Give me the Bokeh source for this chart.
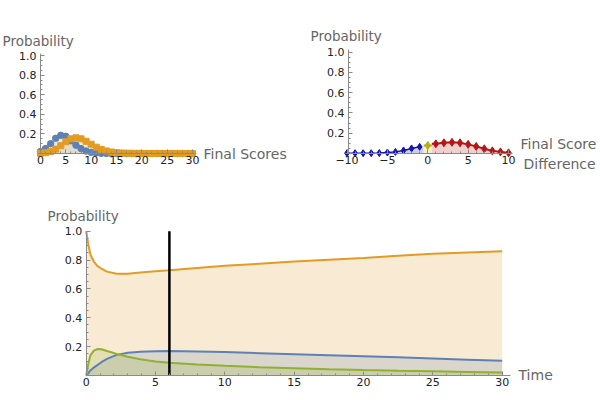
from bokeh.plotting import figure
from bokeh.models import Range1d, FixedTicker, Label
from bokeh.layouts import column, row
from bokeh.embed import file_html
from bokeh.resources import INLINE

# ---------------- data ----------------
# Top-left: final score distributions
scores = list(range(0, 31))
score_prob_blue = [0.02, 0.05, 0.10, 0.155, 0.185, 0.175, 0.13, 0.085, 0.05, 0.025,
                   0.012, 0.005, 0.002, 0.001, 0.0, 0.0, 0.0, 0.0, 0.0, 0.0,
                   0.0, 0.0, 0.0, 0.0, 0.0, 0.0, 0.0, 0.0, 0.0, 0.0, 0.0]
score_prob_orange = [0.002, 0.008, 0.02, 0.045, 0.08, 0.12, 0.15, 0.16, 0.15, 0.125,
                     0.095, 0.065, 0.042, 0.026, 0.015, 0.008, 0.005, 0.003, 0.002, 0.001,
                     0.001, 0.0, 0.0, 0.0, 0.0, 0.0, 0.0, 0.0, 0.0, 0.0, 0.0]

# Top-right: final score difference distribution
diff_neg = [-10, -9, -8, -7, -6, -5, -4, -3, -2, -1]
prob_neg = [0.003, 0.003, 0.003, 0.003, 0.004, 0.01, 0.016, 0.03, 0.05, 0.066]
diff_zero = [0]
prob_zero = [0.079]
diff_pos = [1, 2, 3, 4, 5, 6, 7, 8, 9, 10]
prob_pos = [0.095, 0.105, 0.11, 0.105, 0.09, 0.07, 0.046, 0.026, 0.016, 0.007]

# Bottom: probabilities over time
time = [0, 0.15, 0.3, 0.55, 0.8, 1.1, 1.5, 2.2, 3, 3.9, 5, 6, 8, 10, 12.5, 15,
        17.5, 20, 22.5, 25, 27.5, 30]
prob_orange = [1.0, 0.91, 0.84, 0.79, 0.76, 0.74, 0.72, 0.705, 0.705, 0.713, 0.722,
               0.729, 0.745, 0.76, 0.775, 0.79, 0.803, 0.815, 0.83, 0.843, 0.852, 0.861]
prob_blue = [0.0, 0.015, 0.035, 0.055, 0.072, 0.092, 0.115, 0.143, 0.157, 0.164, 0.168,
             0.169, 0.166, 0.162, 0.155, 0.148, 0.141, 0.134, 0.126, 0.118, 0.11, 0.102]
prob_green = [0.0, 0.08, 0.14, 0.172, 0.183, 0.182, 0.17, 0.15, 0.13, 0.112, 0.097,
              0.088, 0.076, 0.067, 0.058, 0.051, 0.044, 0.038, 0.033, 0.029, 0.025, 0.021]
current_time = 6

prob_ticks = [0.2, 0.4, 0.6, 0.8, 1.0]
prob_minor = [round(0.05 * i, 2) for i in range(1, 21)]

BLUE = "#5E81B5"
ORANGE = "#E19C24"
GREEN = "#8FB032"
FONT = "DejaVu Sans"
LABEL_COLOR = "#666666"
AXIS_COLOR = "#8a8a8a"
TICK_LABEL_COLOR = "#222222"


class Mapper:
    """Pixel <-> data mapping for a figure whose frame fills its whole canvas."""

    def __init__(self, w, h, xa, ya):
        # xa = (px1, v1, px2, v2), ya = (py1, v1, py2, v2)
        self.w, self.h = w, h
        self.sx = (xa[3] - xa[1]) / (xa[2] - xa[0])
        self.x0 = xa[1] - xa[0] * self.sx
        self.sy = (ya[3] - ya[1]) / (ya[2] - ya[0])
        self.y0 = ya[1] - ya[0] * self.sy

    def x(self, px):
        return self.x0 + px * self.sx

    def y(self, py):
        return self.y0 + py * self.sy

    def ranges(self):
        return (self.x(0), self.x(self.w)), (self.y(self.h), self.y(0))


def make_fig(m, x_axis_at, y_axis_at, x_bounds, y_bounds):
    xr, yr = m.ranges()
    p = figure(width=m.w, height=m.h, x_range=Range1d(*xr), y_range=Range1d(*yr),
               output_backend="svg", toolbar_location=None,
               min_border_left=0, min_border_right=0, min_border_top=0,
               min_border_bottom=0)
    p.title.visible = False
    p.grid.visible = False
    p.outline_line_color = None
    p.background_fill_color = "white"
    p.border_fill_color = "white"
    p.xaxis.fixed_location = x_axis_at
    p.yaxis.fixed_location = y_axis_at
    p.xaxis.bounds = x_bounds
    p.yaxis.bounds = y_bounds
    for ax in (p.xaxis[0], p.yaxis[0]):
        ax.axis_line_color = AXIS_COLOR
        ax.major_tick_line_color = AXIS_COLOR
        ax.minor_tick_line_color = AXIS_COLOR
        ax.major_tick_in = 4
        ax.major_tick_out = 0
        ax.minor_tick_in = 2
        ax.minor_tick_out = 0
        ax.major_label_text_font = FONT
        ax.major_label_text_font_size = "11px"
        ax.major_label_text_color = TICK_LABEL_COLOR
    p.xaxis.major_label_standoff = 2
    p.yaxis.major_label_standoff = 4
    p.yaxis.ticker = FixedTicker(ticks=prob_ticks, minor_ticks=prob_minor)
    p.yaxis.major_label_overrides = {1: "1.0"}
    return p


def add_label(p, m, px, py, text, size="13.5px"):
    p.add_layout(Label(x=m.x(px), y=m.y(py), text=text, text_font=FONT,
                       text_font_size=size, text_color=LABEL_COLOR,
                       text_baseline="middle", text_align="left"))


# ---------------- top-left ----------------
m1 = Mapper(300, 188, (40, 0, 192, 30), (153, 0, 55, 1))
p1 = make_fig(m1, 0, 0, (-0.6, 30.6), (0, 1.02))
p1.xaxis.ticker = FixedTicker(ticks=[0, 5, 10, 15, 20, 25, 30], minor_ticks=scores)
zeros1 = [0] * len(scores)
p1.varea(x=scores, y1=zeros1, y2=score_prob_orange, fill_color=ORANGE, fill_alpha=0.2)
p1.varea(x=scores, y1=zeros1, y2=score_prob_blue, fill_color=BLUE, fill_alpha=0.15)
p1.scatter(scores, score_prob_blue, marker="circle", size=6.5, fill_color=BLUE,
           line_color=BLUE)
p1.scatter(scores, score_prob_orange, marker="square", size=6, fill_color=ORANGE,
           line_color=ORANGE)
add_label(p1, m1, 2, 40, "Probability")
add_label(p1, m1, 203, 153, "Final Scores", "14px")

# ---------------- top-right ----------------
m2 = Mapper(300, 188, (46.5, -10, 208, 10), (153, 0, 51.5, 1))
p2 = make_fig(m2, 0, -9.8, (-10.2, 10.5), (0, 1.02))
p2.xaxis.ticker = FixedTicker(ticks=[-10, -5, 0, 5, 10], minor_ticks=list(range(-10, 11)))
p2.xaxis.major_label_overrides = {-10: "\u221210", -5: "\u22125"}

DBLUE = "#1616A6"
DRED = "#B41616"
DYEL = "#B8AE14"
# filled regions (blue up to -0.5, yellow -0.5..0.5, red from 0.5)
neg_x = diff_neg + [diff_zero[0] - 0.5]
neg_y = prob_neg + [prob_neg[-1]]
p2.varea(x=neg_x, y1=[0] * len(neg_x), y2=neg_y, fill_color="#CBCFEC", fill_alpha=1)
zero_x = [diff_zero[0] - 0.5, diff_zero[0] + 0.5]
zero_y = [prob_zero[0], prob_zero[0]]
p2.varea(x=zero_x, y1=[0, 0], y2=zero_y, fill_color="#F3EFCF", fill_alpha=1)
pos_x = [diff_zero[0] + 0.5] + diff_pos
pos_y = [prob_pos[0]] + prob_pos
p2.varea(x=pos_x, y1=[0] * len(pos_x), y2=pos_y, fill_color="#F0CFCF", fill_alpha=1)
p2.line(diff_neg, prob_neg, line_color=DBLUE, line_width=1.5)
p2.line(pos_x, pos_y, line_color=DRED, line_width=2)
p2.line(zero_x, zero_y, line_color=DYEL, line_width=2)
p2.scatter(diff_neg, prob_neg, marker="diamond", size=7, fill_color=DBLUE, line_color=DBLUE)
p2.scatter(diff_zero, prob_zero, marker="diamond", size=8, fill_color=DYEL, line_color=DYEL)
p2.scatter(diff_pos, prob_pos, marker="diamond", size=8, fill_color=DRED, line_color=DRED)
add_label(p2, m2, 10, 35, "Probability")
add_label(p2, m2, 220, 143, "Final Score", "14px")
add_label(p2, m2, 223, 163, "Difference", "14px")

# ---------------- bottom ----------------
m3 = Mapper(600, 204, (85.7, 0, 501.7, 30), (187, 0, 42.7, 1))
p3 = make_fig(m3, 0, 0, (0, 30.6), (0, 1))
p3.xaxis.ticker = FixedTicker(ticks=[0, 5, 10, 15, 20, 25, 30], minor_ticks=list(range(0, 31)))
zeros3 = [0] * len(time)
p3.varea(x=time, y1=zeros3, y2=prob_orange, fill_color=ORANGE, fill_alpha=0.2)
p3.varea(x=time, y1=zeros3, y2=prob_blue, fill_color=BLUE, fill_alpha=0.2)
p3.varea(x=time, y1=zeros3, y2=prob_green, fill_color=GREEN, fill_alpha=0.2)
p3.line(time, prob_orange, line_color=ORANGE, line_width=2)
p3.line(time, prob_blue, line_color=BLUE, line_width=2)
p3.line(time, prob_green, line_color=GREEN, line_width=2)
p3.segment(x0=[current_time], y0=[0], x1=[current_time], y1=[1], line_color="black",
           line_width=2.5)
add_label(p3, m3, 47, 27, "Probability")
add_label(p3, m3, 518, 186, "Time", "14px")

layout = column(row(p1, p2), p3)
open("out.html", "w").write(file_html(layout, INLINE))
